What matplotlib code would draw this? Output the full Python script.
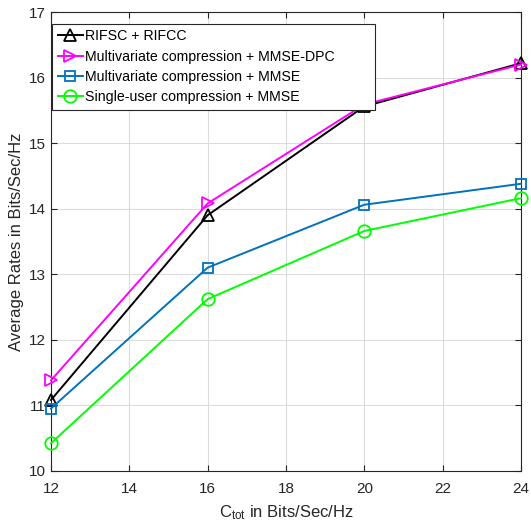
import matplotlib
matplotlib.use("Agg")
import matplotlib.pyplot as plt

plt.rcParams['font.family'] = ['Liberation Sans', 'DejaVu Sans']
plt.rcParams['mathtext.fontset'] = 'custom'
plt.rcParams['mathtext.rm'] = 'Liberation Sans'
plt.rcParams['mathtext.it'] = 'Liberation Sans'

ctot = [12, 16, 20, 24]
rifsc = [11.08, 13.90, 15.56, 16.22]
mv_dpc = [11.38, 14.08, 15.59, 16.20]
mv_mmse = [10.95, 13.10, 14.06, 14.38]
su_mmse = [10.42, 12.62, 13.66, 14.16]
labels = ["RIFSC + RIFCC", "Multivariate compression + MMSE-DPC",
          "Multivariate compression + MMSE", "Single-user compression + MMSE"]

fig = plt.figure(figsize=(5.31, 5.26), dpi=100)
ax = fig.add_axes([0.096, 0.105, 0.885, 0.872])

ms = 9
lw = 1.4
common = dict(mfc='none', mew=1.3, lw=lw, clip_on=False, zorder=3)
ax.plot(ctot, rifsc, color='black', marker='^', ms=ms, label=labels[0], **common)
ax.plot(ctot, mv_dpc, color=(1, 0, 1), marker='>', ms=ms, label=labels[1], **common)
ax.plot(ctot, mv_mmse, color=(0, 0.447, 0.741), marker='s', ms=7, label=labels[2], **common)
ax.plot(ctot, su_mmse, color=(0, 1, 0), marker='o', ms=ms, label=labels[3], **common)

ax.set_xlim(12, 24)
ax.set_ylim(10, 17)
ax.set_xticks([12, 14, 16, 18, 20, 22, 24])
ax.set_yticks([10, 11, 12, 13, 14, 15, 16, 17])
ax.grid(True, color='#dcdcdc', lw=0.8)
ax.set_axisbelow(True)
ax.tick_params(direction='in', top=True, right=True, labelsize=11, length=4,
               color='#262626', labelcolor='#262626')
ax.tick_params(axis='x', pad=8)
for s in ax.spines.values():
    s.set_color('#262626')
    s.set_linewidth(0.8)

ax.set_xlabel(r"C$_{\mathrm{tot}}$ in Bits/Sec/Hz", fontsize=12, color='#262626', labelpad=5)
ax.set_ylabel("Average Rates in Bits/Sec/Hz", fontsize=12, color='#262626', labelpad=4)

leg = ax.legend(loc='upper left', bbox_to_anchor=(0.002, 0.975, 0.688, 0.0), mode='expand',
                fontsize=10.2, frameon=True, fancybox=False,
                edgecolor='#262626', framealpha=1, handlelength=1.8, handletextpad=0.15,
                borderaxespad=0.0, borderpad=0.4, labelspacing=0.45)
leg.get_frame().set_linewidth(0.8)

fig.savefig("out.png", dpi=100)
